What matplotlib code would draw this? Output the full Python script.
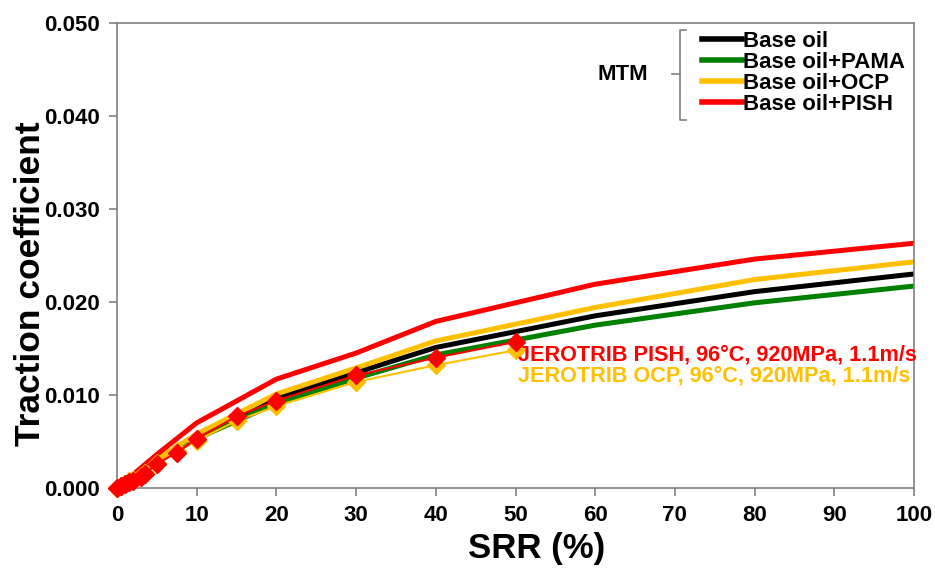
import matplotlib
matplotlib.use("Agg")
import matplotlib.pyplot as plt
from matplotlib.lines import Line2D

plt.rcParams['font.family'] = ['Liberation Sans', 'DejaVu Sans']
plt.rcParams['font.weight'] = 'bold'

# MTM traction curves
srr_mtm = [0, 2.5, 5, 10, 20, 30, 40, 60, 80, 100]
mtm_base = [0, 0.0015, 0.0030, 0.0056, 0.0097, 0.0124, 0.0151, 0.0185, 0.0211, 0.0230]
mtm_pama = [0, 0.0014, 0.0028, 0.0053, 0.0091, 0.0118, 0.0143, 0.0175, 0.0199, 0.0217]
mtm_ocp = [0, 0.0016, 0.0031, 0.0058, 0.0101, 0.0129, 0.0158, 0.0194, 0.0224, 0.0243]
mtm_pish = [0, 0.0018, 0.0036, 0.0070, 0.0117, 0.0145, 0.0179, 0.0219, 0.0246, 0.0263]

# JEROTRIB measurements
srr_jt = [0, 0.5, 1, 1.5, 2, 3, 3.5, 5, 7.5, 10, 15, 20, 30, 40, 50]
jt_pish = [0, 0.0002, 0.0004, 0.0006, 0.0008, 0.0012, 0.0015, 0.0026, 0.0038,
           0.0053, 0.0077, 0.0094, 0.0121, 0.0140, 0.0157]
jt_ocp = [0, 0.0002, 0.0004, 0.0007, 0.0009, 0.0013, 0.0016, 0.0027, 0.0040,
          0.0051, 0.0072, 0.0088, 0.0114, 0.0132, 0.0148]

x_ticks = list(range(0, 101, 10))
y_ticks = [0.0, 0.01, 0.02, 0.03, 0.04, 0.05]

labels = ['Base oil', 'Base oil+PAMA', 'Base oil+OCP', 'Base oil+PISH']
BLACK, GREEN, YELLOW, RED = '#000000', '#008000', '#FFC000', '#FF0000'
GRAY = '#808080'

fig = plt.figure(figsize=(9.35, 5.7), dpi=100)
ax = fig.add_axes([117 / 935, 1 - 488 / 570, (914 - 117) / 935, (488 - 22.7) / 570])

lw = 3.6
h1, = ax.plot(srr_mtm, mtm_base, color=BLACK, lw=lw, solid_joinstyle='round')
h2, = ax.plot(srr_mtm, mtm_pama, color=GREEN, lw=lw, solid_joinstyle='round')
h3, = ax.plot(srr_mtm, mtm_ocp, color=YELLOW, lw=lw, solid_joinstyle='round')
h4, = ax.plot(srr_mtm, mtm_pish, color=RED, lw=lw, solid_joinstyle='round')

ax.plot(srr_jt, jt_ocp, color=YELLOW, lw=1.5, marker='D', ms=9.5, mec=YELLOW,
        mfc=YELLOW, clip_on=False, zorder=3)
ax.plot(srr_jt, jt_pish, color=RED, lw=1.5, marker='D', ms=9.5, mec=RED,
        mfc=RED, clip_on=False, zorder=4)

ax.text(50.3, 0.0143, 'JEROTRIB PISH, 96\u00b0C, 920MPa, 1.1m/s', color=RED,
        fontsize=15.6, fontweight='bold', ha='left', va='center')
ax.text(50.3, 0.0120, 'JEROTRIB OCP, 96\u00b0C, 920MPa, 1.1m/s', color=YELLOW,
        fontsize=15.6, fontweight='bold', ha='left', va='center')

ax.set_xlim(0, 100)
ax.set_ylim(0, 0.05)
ax.set_xticks(x_ticks)
ax.set_yticks(y_ticks)
ax.set_yticklabels([f'{v:.3f}' for v in y_ticks])
ax.tick_params(axis='both', direction='out', length=6, width=1.2, color=GRAY,
               labelsize=16, pad=6)
for lab in ax.get_xticklabels() + ax.get_yticklabels():
    lab.set_fontweight('bold')
for sp in ax.spines.values():
    sp.set_color(GRAY)
    sp.set_linewidth(1.2)

ax.set_xlabel('SRR (%)', fontsize=25, fontweight='bold')
ax.set_ylabel('Traction coefficient', fontsize=25.5, fontweight='bold')
ax.xaxis.set_label_coords((537 - 117) / 797, (488 - 532) / 465.3)
ax.yaxis.set_label_coords((47 - 117) / 797, (488 - 284) / 465.3)

leg = ax.legend([h1, h2, h3, h4], labels, loc='upper left',
                bbox_to_anchor=(702 / 935, 1 - 31 / 570), bbox_transform=fig.transFigure,
                frameon=False, prop={'size': 16, 'weight': 'bold'},
                handlelength=1.8, handletextpad=0.05, labelspacing=0.0,
                borderpad=0, borderaxespad=0)
for ln in leg.get_lines():
    ln.set_linewidth(4)

# brace grouping the MTM entries
def fx(px):
    return px / 935

def fy(py):
    return 1 - py / 570

for xs, ys in [([686, 680, 680, 686], [30, 30, 120, 120]), ([680, 672], [74, 74])]:
    fig.add_artist(Line2D([fx(v) for v in xs], [fy(v) for v in ys],
                          color=GRAY, lw=1.2, transform=fig.transFigure))
fig.text(fx(623), fy(74), 'MTM', fontsize=16, fontweight='bold', ha='center', va='center')

fig.savefig('out.png', dpi=100)
